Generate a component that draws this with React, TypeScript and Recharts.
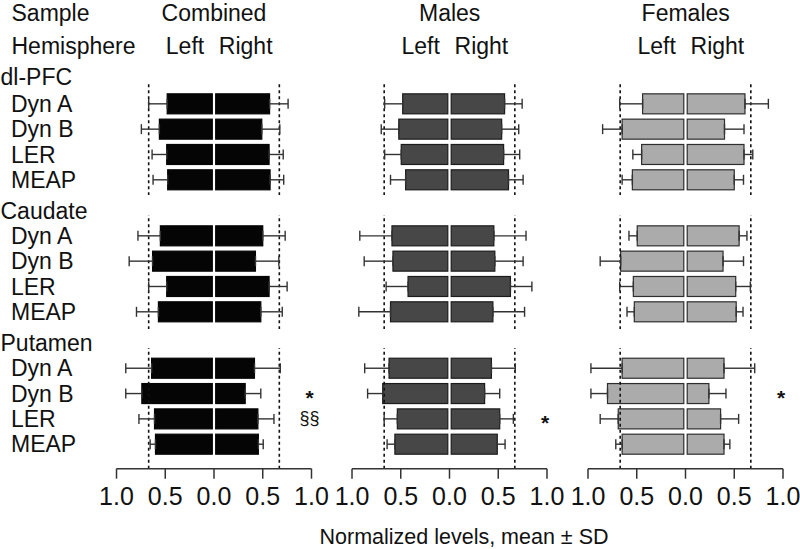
import React from 'react';
import { BarChart, Bar, XAxis, YAxis, ErrorBar, ReferenceLine, ReferenceDot } from 'recharts';

const FONT = '"Liberation Sans", Arial, sans-serif';

const regions = ['dl-PFC', 'Caudate', 'Putamen'];
const peptides = ['Dyn A', 'Dyn B', 'LER', 'MEAP'];
const hemispheres = ['Left', 'Right'];
const axisTicks = [-1, -0.5, 0, 0.5, 1];
const cutoff = 0.67;

// order: dl-PFC (Dyn A, Dyn B, LER, MEAP), Caudate (...), Putamen (...)
const combinedLeft = [0.48, 0.56, 0.485, 0.475, 0.55, 0.63, 0.485, 0.57, 0.64, 0.74, 0.61, 0.6];
const combinedLeftSD = [0.19, 0.185, 0.15, 0.15, 0.23, 0.24, 0.185, 0.225, 0.265, 0.165, 0.16, 0.055];
const combinedRight = [0.57, 0.49, 0.565, 0.575, 0.5, 0.425, 0.565, 0.48, 0.415, 0.32, 0.45, 0.455];
const combinedRightSD = [0.19, 0.185, 0.145, 0.14, 0.23, 0.24, 0.185, 0.22, 0.265, 0.16, 0.165, 0.05];

const malesLeft = [0.48, 0.52, 0.495, 0.45, 0.59, 0.58, 0.425, 0.605, 0.62, 0.685, 0.535, 0.56];
const malesLeftSD = [0.185, 0.18, 0.17, 0.155, 0.33, 0.295, 0.225, 0.325, 0.25, 0.155, 0.135, 0.08];
const malesRight = [0.565, 0.535, 0.555, 0.605, 0.455, 0.465, 0.625, 0.445, 0.43, 0.36, 0.515, 0.49];
const malesRightSD = [0.18, 0.175, 0.165, 0.15, 0.33, 0.29, 0.22, 0.325, 0.245, 0.155, 0.14, 0.08];

const femalesLeft = [0.44, 0.65, 0.45, 0.545, 0.495, 0.665, 0.535, 0.525, 0.65, 0.8, 0.69, 0.65];
const femalesLeftSD = [0.235, 0.2, 0.09, 0.105, 0.085, 0.21, 0.14, 0.075, 0.32, 0.17, 0.185, 0.065];
const femalesRight = [0.61, 0.4, 0.6, 0.5, 0.55, 0.385, 0.515, 0.52, 0.395, 0.24, 0.36, 0.395];
const femalesRightSD = [0.24, 0.2, 0.09, 0.095, 0.08, 0.21, 0.15, 0.07, 0.315, 0.175, 0.185, 0.06];

const combinedMarks = [
  { region: 'Putamen', peptide: 'Dyn B', text: '*' },
  { region: 'Putamen', peptide: 'LER', text: '§§' },
];
const malesMarks = [{ region: 'Putamen', peptide: 'LER', text: '*' }];
const femalesMarks = [{ region: 'Putamen', peptide: 'Dyn B', text: '*' }];

const panels = [
  { name: 'Combined', left: combinedLeft, leftSD: combinedLeftSD, right: combinedRight, rightSD: combinedRightSD, marks: combinedMarks, center: 214, fill: '#050505', stroke: '#050505' },
  { name: 'Males', left: malesLeft, leftSD: malesLeftSD, right: malesRight, rightSD: malesRightSD, marks: malesMarks, center: 449.7, fill: '#474747', stroke: '#1c1c1c' },
  { name: 'Females', left: femalesLeft, leftSD: femalesLeftSD, right: femalesRight, rightSD: femalesRightSD, marks: femalesMarks, center: 685.7, fill: '#ababab', stroke: '#2e2e2e' },
];

// vertical placement of each region block (plot area incl. the dotted-line overhang)
const blocks = [
  { top: 82.7, height: 112.3, padTop: 8.3, padBottom: 2.7 },
  { top: 215, height: 114.3, padTop: 8.3, padBottom: 4.7 },
  { top: 348.3, height: 120.7, padTop: 7.7, padBottom: 11.7 },
];
const HALF = 97.5; // px per unit
const SIDE = 20;
const LABEL_W = 116.5;
const AXIS_H = 52;
const TXT = 23;

const makeRows = (p: any, g: number) =>
  peptides.map((pep, j) => {
    const i = g * 4 + j;
    return {
      peptide: pep,
      left: -p.left[i],
      right: p.right[i],
      leftErr: [p.leftSD[i], 0],
      rightErr: [0, p.rightSD[i]],
    };
  });

const gapBar = (side: string, fill: string, stroke: string) => (props: any) => {
  const { x, y, width, height } = props;
  let x0 = Math.min(x, x + width);
  let x1 = Math.max(x, x + width);
  if (side === 'left') x1 -= 1.7;
  else x0 += 1.7;
  return (
    <rect x={x0} y={y} width={Math.max(0, x1 - x0)} height={height} fill={fill} stroke={stroke} strokeWidth={1.2} />
  );
};

const RowLabel = (props: any) => (
  <text x={11} y={props.y} dy={8} fontSize={TXT} fontFamily={FONT} fill="#111">
    {props.payload.value}
  </text>
);

const dotted = (props: any) => (
  <line x1={props.x1} y1={props.y1} x2={props.x2} y2={props.y2} stroke="#111" strokeWidth={1.6} strokeDasharray="3 3" />
);

function GroupChart({ panel, g }: { panel: any; g: number }) {
  const block = blocks[g];
  const isFirst = panel.name === 'Combined';
  const isLast = g === regions.length - 1;
  const leftPad = isFirst ? LABEL_W : SIDE;
  const width = leftPad + 2 * HALF + SIDE;
  const height = block.height + (isLast ? AXIS_H : 0);
  const chartLeft = panel.center - HALF - leftPad;
  const rows = makeRows(panel, g);
  const marks = panel.marks.filter((m: any) => m.region === regions[g]);

  return (
    <div style={{ position: 'absolute', left: chartLeft, top: block.top }}>
      <BarChart
        width={width}
        height={height}
        data={rows}
        layout="vertical"
        stackOffset="sign"
        barCategoryGap="10%"
        margin={{ top: 0, right: SIDE, bottom: 0, left: isFirst ? 0 : SIDE }}
      >
        <XAxis
          type="number"
          domain={[-1, 1]}
          ticks={axisTicks}
          hide={!isLast}
          height={AXIS_H}
          tickSize={10}
          tickMargin={9}
          tickFormatter={(v: number) => Math.abs(v).toFixed(1)}
          stroke="#333"
          strokeWidth={1.5}
          tick={{ fill: '#111', fontSize: 25, fontFamily: FONT }}
        />
        <YAxis
          type="category"
          dataKey="peptide"
          hide={!isFirst}
          width={LABEL_W}
          axisLine={false}
          tickLine={false}
          interval={0}
          tick={<RowLabel />}
          padding={{ top: block.padTop, bottom: block.padBottom }}
        />
        <ReferenceLine x={-cutoff} shape={dotted} />
        <ReferenceLine x={cutoff} shape={dotted} />
        <Bar dataKey="left" stackId="h" isAnimationActive={false} shape={gapBar('left', panel.fill, panel.stroke)}>
          <ErrorBar dataKey="leftErr" direction="x" width={5} stroke="#333" strokeWidth={1.4} />
        </Bar>
        <Bar dataKey="right" stackId="h" isAnimationActive={false} shape={gapBar('right', panel.fill, panel.stroke)}>
          <ErrorBar dataKey="rightErr" direction="x" width={5} stroke="#333" strokeWidth={1.4} />
        </Bar>
        {marks.map((m: any) => (
          <ReferenceDot
            key={m.peptide}
            x={0.98}
            y={m.peptide}
            ifOverflow="visible"
            shape={(p: any) => (
              <text
                x={p.cx}
                y={p.cy}
                dy={m.text === '*' ? 11 : 5}
                textAnchor="middle"
                fontSize={m.text === '*' ? 21 : 18}
                fontWeight={m.text === '*' ? 'bold' : 'normal'}
                fontFamily={FONT}
                fill="#111"
              >
                {m.text}
              </text>
            )}
          />
        ))}
      </BarChart>
    </div>
  );
}

const regionBaselines = [85, 219, 351];

export default function App() {
  return (
    <div style={{ position: 'absolute', left: 0, top: 0, width: 800, height: 549, background: '#fff', overflow: 'hidden' }}>
      {panels.map((p) => regions.map((r, g) => <GroupChart key={p.name + r} panel={p} g={g} />))}
      <svg width={800} height={549} style={{ position: 'absolute', left: 0, top: 0, pointerEvents: 'none' }} fontFamily={FONT} fill="#111">
        <text x={11.5} y={21} fontSize={TXT}>Sample</text>
        <text x={11.5} y={54} fontSize={TXT}>Hemisphere</text>
        {panels.map((p) => (
          <g key={p.name}>
            <text x={p.center} y={21} fontSize={TXT} textAnchor="middle">{p.name}</text>
            <text x={p.center - 29} y={54} fontSize={TXT} textAnchor="middle">{hemispheres[0]}</text>
            <text x={p.center + 31.7} y={54} fontSize={TXT} textAnchor="middle">{hemispheres[1]}</text>
          </g>
        ))}
        {regions.map((r, g) => (
          <text key={r} x={0.5} y={regionBaselines[g]} fontSize={TXT}>{r}</text>
        ))}
        <text x={464} y={544} fontSize={21.5} textAnchor="middle">Normalized levels, mean ± SD</text>
      </svg>
    </div>
  );
}
